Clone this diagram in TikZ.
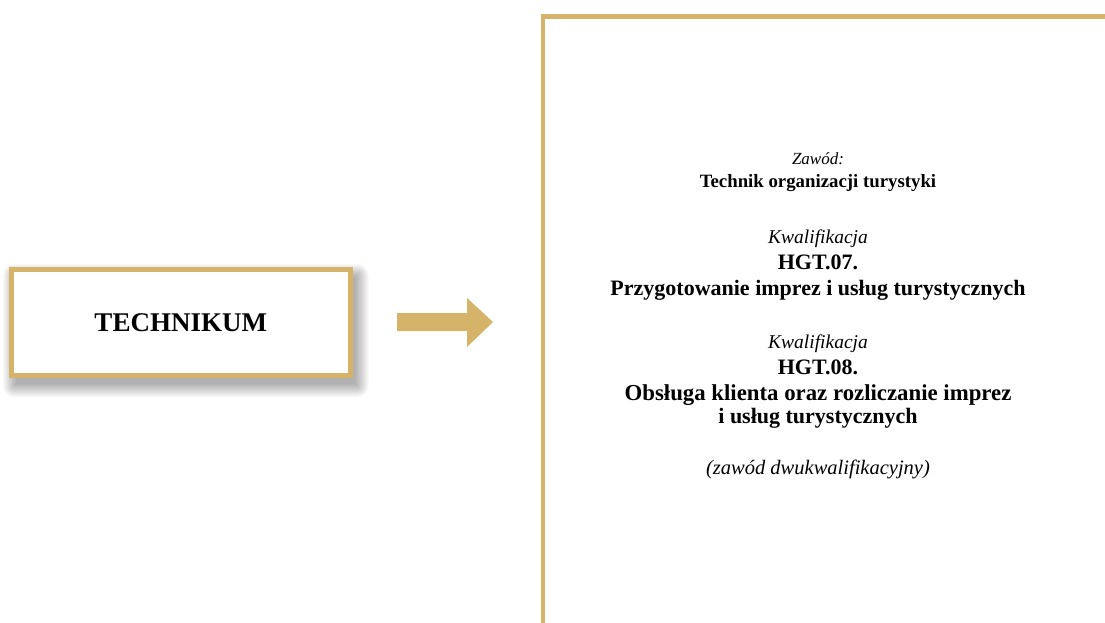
\documentclass[tikz,border=0pt]{standalone}
\usepackage{fontspec}
\setmainfont{Liberation Serif}
\usetikzlibrary{calc,backgrounds}
\definecolor{gold}{HTML}{D5B369}
\tikzset{
  x=1pt, y=-1pt,
  schoolbox/.style={draw=gold, line width=5pt, fill=white, minimum width=338.5pt, minimum height=106pt},
  shadelayer/.style={fill=black, opacity=0.022},
  framestroke/.style={draw=gold, line width=4.5pt},
  pointer/.style={fill=gold, draw=none},
  txt/.style={anchor=base, inner sep=0pt},
  lblit/.style={txt, font=\fontsize{19.5}{24}\selectfont\itshape},
  lbbf/.style={txt, font=\fontsize{22}{26}\selectfont\bfseries},
}
\begin{document}
\begin{tikzpicture}
\useasboundingbox (0,0) rectangle (1105,622);
% left box
\node[schoolbox, font=\fontsize{27}{31}\selectfont\bfseries] (tech) at (180.75,322.5) {TECHNIKUM};
\begin{scope}[on background layer]
\fill[white] (0,0) rectangle (1105,622);
\foreach \r in {-2,...,11} {
  \fill[shadelayer, rounded corners={max(\r,1)*1pt}] ($(tech.north west)+(5-\r,8-\r)$) rectangle ($(tech.south east)+(5+\r,8+\r)$);
}
\end{scope}
% arrow
\coordinate (a1) at (397,313);
\coordinate (a2) at (467,313);
\coordinate (a3) at (467,298);
\coordinate (tip) at (493,322);
\coordinate (a5) at (467,347);
\coordinate (a6) at (467,331);
\coordinate (a7) at (397,331);
\fill[pointer] (a1) -- (a2) -- (a3) -- (tip) -- (a5) -- (a6) -- (a7) -- cycle;
% open frame
\coordinate (fbot) at (543,624);
\coordinate (fcorner) at (543,16.5);
\coordinate (fright) at (1107,16.5);
\draw[framestroke] (fbot) -- (fcorner) -- (fright);
% texts
\node[txt, font=\fontsize{17}{21}\selectfont\itshape] (zawod) at (818,164) {Zawód:};
\node[txt, font=\fontsize{18.8}{22}\selectfont\bfseries] (zawodname) at (818,187) {Technik organizacji turystyki};
\node[lblit] (k1) at (818,243) {Kwalifikacja};
\node[lbbf] (h1) at (818,269) {HGT.07.};
\node[lbbf] (q1) at (818,295) {Przygotowanie imprez i usług turystycznych};
\node[lblit] (k2) at (818,348) {Kwalifikacja};
\node[lbbf] (h2) at (818,374) {HGT.08.};
\node[txt, font=\fontsize{22.8}{26}\selectfont\bfseries] (q2a) at (818,400) {Obsługa klienta oraz rozliczanie imprez};
\node[lbbf] (q2b) at (818,423) {i usług turystycznych};
\node[txt, font=\fontsize{20.5}{24}\selectfont\itshape] (note) at (818,474) {(zawód dwukwalifikacyjny)};
\end{tikzpicture}
\end{document}
